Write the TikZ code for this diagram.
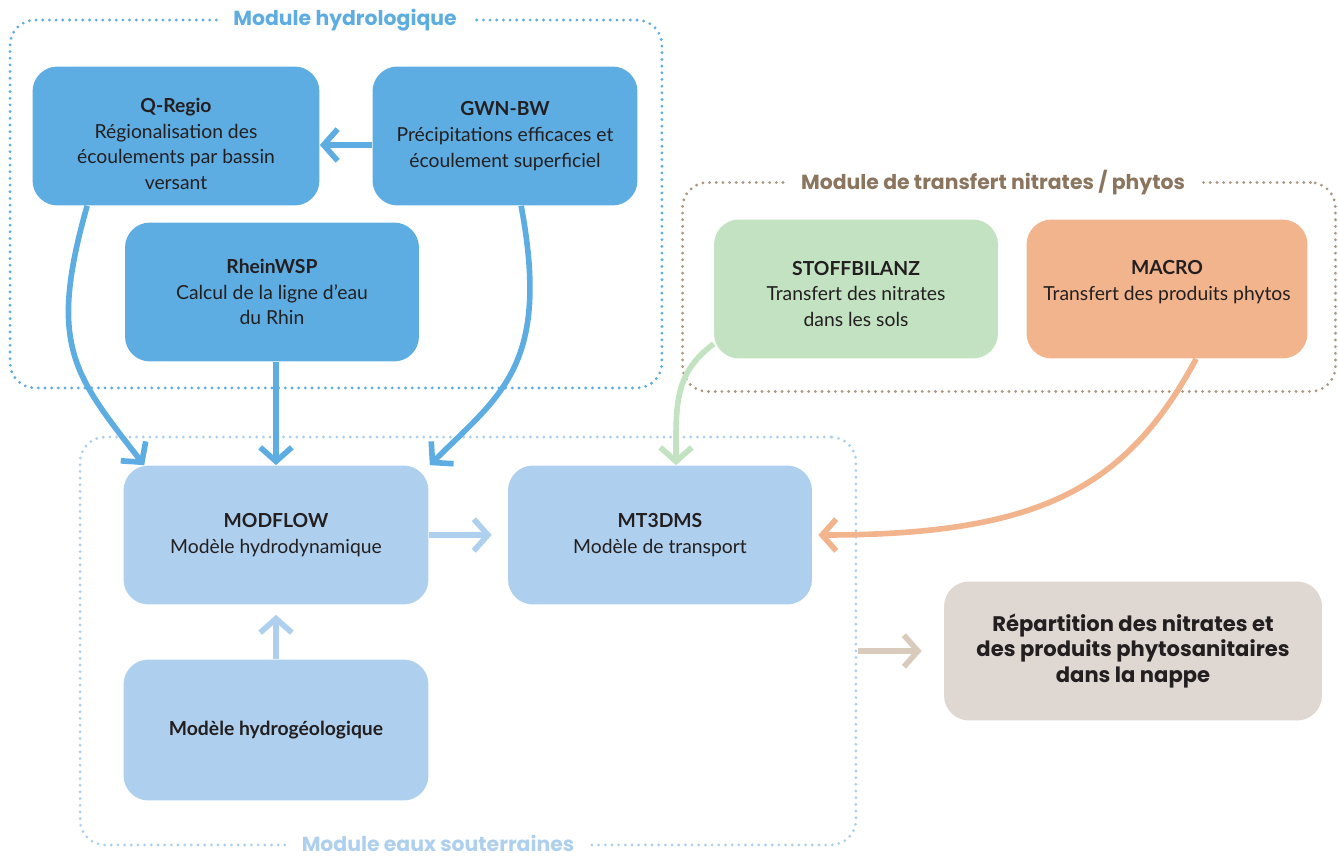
\documentclass[tikz,border=0pt]{standalone}
\usepackage{fontspec}
\setmainfont{Lato}
\newfontfamily\headfont{Poppins}
\usetikzlibrary{arrows.meta, positioning}

\definecolor{hydro}{RGB}{93,173,226}
\definecolor{souter}{RGB}{174,208,238}
\definecolor{stoff}{RGB}{194,226,194}
\definecolor{macro}{RGB}{242,180,140}
\definecolor{transf}{RGB}{139,117,95}
\definecolor{transfdot}{RGB}{172,152,130}
\definecolor{repart}{RGB}{222,215,210}
\definecolor{repartarrow}{RGB}{217,203,187}
\definecolor{txt}{RGB}{35,31,32}

\begin{document}
\begin{tikzpicture}[x=0.02cm,y=-0.02cm]
\tikzset{
  box/.style={fill=#1, rounded corners=0.5cm, minimum height=2.78cm, align=center,
    text=txt, font=\fontsize{11}{14.7}\selectfont, inner sep=0pt},
  boxtext/.style={align=center, text=txt, font=\fontsize{11}{14.7}\selectfont, inner sep=0pt},
  frame/.style={draw=#1, rounded corners=0.5cm, line width=1.8pt, line cap=round,
    dash pattern=on 0pt off 3.8pt},
  title/.style={fill=white, text=#1, font=\headfont\bfseries\fontsize{11.6}{14}\selectfont,
    inner xsep=9pt, inner ysep=1pt},
  flow/.style={draw=#1, line width=3.2pt, -{Straight Barb[length=8pt,width=18pt]}}
}

\useasboundingbox (0,0) rectangle (1338,857);

% modules
\node[frame=hydro, minimum width=13.04cm, minimum height=7.36cm] (hydmod) at (336,204) {};
\node[frame=transfdot, minimum width=13.06cm, minimum height=4.18cm] (trmod) at (1009,287) {};
\node[frame=souter, minimum width=15.52cm, minimum height=8.16cm] (eaux) at (468,641) {};

\node[title=hydro] (thyd) at (345,20) {Module hydrologique};
\node[title=transf] (ttr) at (993,183) {Module de transfert nitrates / phytos};
\node[title=souter] (teaux) at (438,843) {Module eaux souterraines};

% boxes
\node[box=hydro, minimum width=5.74cm] (qregio) at (176,136) {};
\node[boxtext] (qregiotxt) at (176,144)
  {\textbf{Q-Regio}\\Régionalisation des\\écoulements par bassin\\versant};
\node[box=hydro, minimum width=5.3cm] (gwn) at (505,136)
  {\textbf{GWN-BW}\\Précipitations efficaces et\\écoulement superficiel};
\node[box=hydro, minimum width=5.88cm] (rhein) at (272,292)
  {\textbf{RheinWSP}\\Calcul de la ligne d'eau\\du Rhin};
\node[box=stoff, minimum width=5.68cm] (stoffb) at (856,289) {};
\node[boxtext] (stoffbtxt) at (856,294)
  {\textbf{STOFFBILANZ}\\Transfert des nitrates\\dans les sols};
\node[box=macro, minimum width=5.62cm] (macrob) at (1167,289) {};
\node[boxtext] (macrobtxt) at (1167,282)
  {\textbf{MACRO}\\Transfert des produits phytos};
\node[box=souter, minimum width=6.1cm] (modflow) at (276,535)
  {\textbf{MODFLOW}\\Modèle hydrodynamique};
\node[box=souter, minimum width=6.08cm] (mt3dms) at (660,535)
  {\textbf{MT3DMS}\\Modèle de transport};
\node[box=souter, minimum width=6.1cm, minimum height=2.82cm] (hydgeo) at (276,730)
  {\textbf{Modèle hydrogéologique}};
\node[box=repart, minimum width=7.56cm, font=\headfont\bfseries\fontsize{12}{14.7}\selectfont]
  (result) at (1133,651)
  {Répartition des nitrates et\\des produits phytosanitaires\\dans la nappe};

% flows
\draw[flow=hydro] ([yshift=-0.18cm]gwn.west) -- ([yshift=-0.18cm]qregio.east);
\draw[flow=hydro] ([xshift=1.1cm]qregio.south west)
  .. controls +(-40,140) and +(-70,-90) .. ([xshift=0.42cm]modflow.north west);
\draw[flow=hydro] (rhein.south -| modflow.north) -- (modflow.north);
\draw[flow=hydro] ([xshift=2.98cm]gwn.south west)
  .. controls +(30,160) and +(70,-70) .. ([xshift=0.02cm]modflow.north east);
\draw[flow=stoff] ([yshift=0.3cm]stoffb.south west)
  .. controls +(-40,30) and +(0,-60) .. ([xshift=0.32cm]mt3dms.north);
\draw[flow=macro] ([xshift=3.4cm]macrob.south west)
  .. controls +(-70,130) and +(220,0) .. ([xshift=0.12cm]mt3dms.east);
\draw[flow=souter, shorten >=0.32cm] (modflow.east) -- (mt3dms.west);
\draw[flow=souter, shorten >=0.2cm] (hydgeo.north) -- (modflow.south);
\draw[flow=repartarrow, shorten >=0.44cm] (eaux.east |- result.west) -- (result.west);
\end{tikzpicture}
\end{document}
